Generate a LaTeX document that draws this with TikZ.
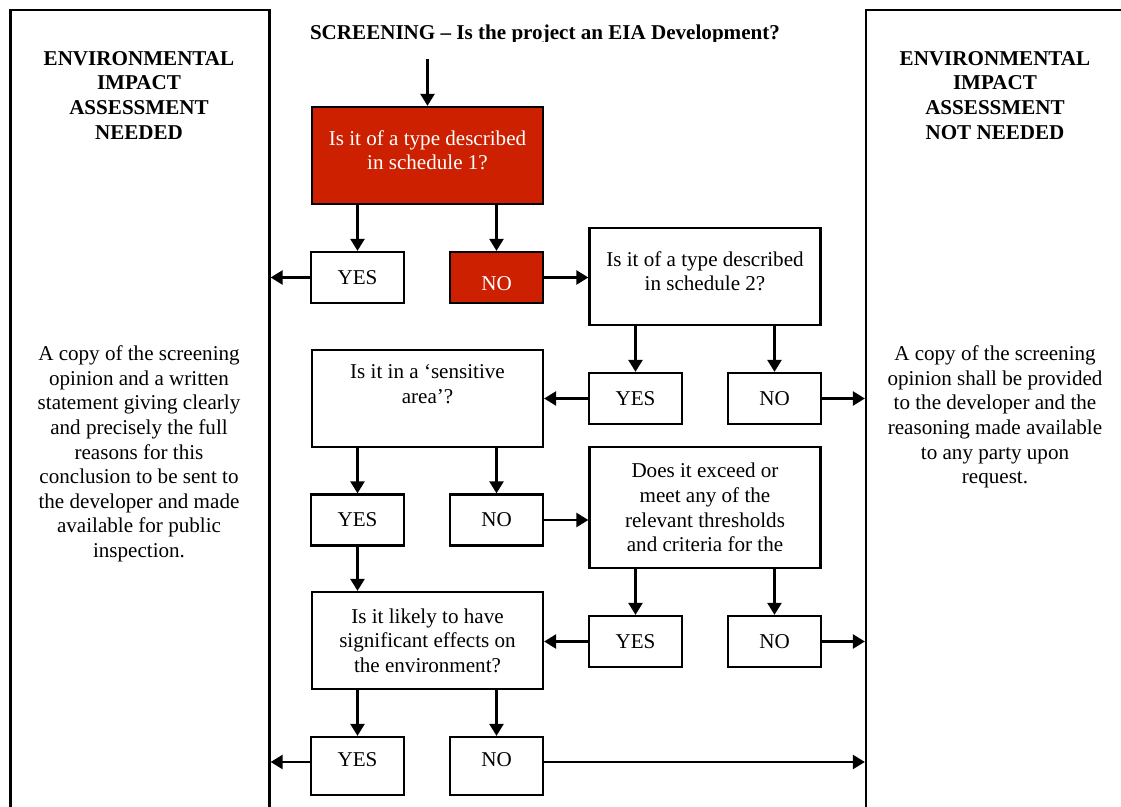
\documentclass[tikz,border=0pt]{standalone}
\usepackage{fontspec}
\setmainfont{Liberation Serif}
\usepackage{tikz}
\usetikzlibrary{arrows.meta}
\definecolor{screenred}{RGB}{204,32,0}

\begin{document}
\begin{tikzpicture}[
  every node/.style={font=\fontsize{12}{14}\selectfont},
  panel/.style={draw, line width=1.3pt, inner sep=0pt,
    minimum width=5.18cm, minimum height=16.6cm},
  heading/.style={font=\fontsize{12}{14}\selectfont\bfseries,
    align=center, inner sep=0pt, anchor=north},
  note/.style={align=center, inner sep=0pt, anchor=north},
  question/.style={draw, line width=1.3pt, fill=white, align=center,
    inner sep=2pt, minimum width=4.62cm, minimum height=1.94cm},
  redquestion/.style={question, fill=screenred, text=white},
  answer/.style={draw, line width=1.3pt, fill=white, align=center,
    inner sep=2pt, minimum width=1.86cm, minimum height=1.02cm},
  redanswer/.style={answer, fill=screenred, text=white},
  arr/.style={-{Triangle[length=0.24cm,width=0.28cm]}, line width=1.4pt},
]
\useasboundingbox (0,0) rectangle (22.42,-16.14);
\clip (0,0) rectangle (22.42,-16.14);

% outcome panels
\node[panel] at ( 2.80, -8.50) (needed) {};
\node[panel, minimum width=5.6cm] at (20.12, -8.50) (notneeded) {};

\node[heading] at ( 2.78, -1.02) (neededtitle)
  {ENVIRONMENTAL\\IMPACT\\ASSESSMENT\\NEEDED};
\node[note] at ( 2.78, -6.91) (neededtext)
  {A copy of the screening\\opinion and a written\\statement giving clearly\\and precisely the full\\reasons for this\\conclusion to be sent to\\the developer and made\\available for public\\inspection.};

\node[heading] at (19.90, -1.02) (notneededtitle)
  {ENVIRONMENTAL\\IMPACT\\ASSESSMENT\\NOT NEEDED};
\node[note] at (19.90, -6.91) (notneededtext)
  {A copy of the screening\\opinion shall be provided\\to the developer and the\\reasoning made available\\to any party upon\\request.};

% title, cut off at the bottom as in the form
\begin{scope}
\clip (5.5,0) rectangle (17,-0.84);
\node[font=\fontsize{12}{14}\selectfont\bfseries, anchor=base] at (10.90, -0.80) (screening)
  {SCREENING -- Is the project an EIA Development?};
\end{scope}
\coordinate (entry) at (8.55, -1.18);

% questions and answers
\node[redquestion, text depth=0.22cm] at ( 8.55,  -3.11) (sched1) {Is it of a type described\\in schedule 1?};
\node[answer]                         at ( 7.15,  -5.55) (yes1)   {YES};
\node[redanswer, text height=0.52cm]  at ( 9.93,  -5.55) (no1)    {NO};

\node[question, text depth=0.21cm]    at (14.10,  -5.53) (sched2) {Is it of a type described\\in schedule 2?};
\node[answer]                         at (12.71,  -7.97) (yes2)   {YES};
\node[answer]                         at (15.49,  -7.97) (no2)    {NO};

\node[question, text depth=0.57cm]    at ( 8.55,  -7.97) (sensitive) {Is it in a `sensitive\\area'?};
\node[answer]                         at ( 7.15, -10.40) (yes3)   {YES};
\node[answer]                         at ( 9.93, -10.40) (no3)    {NO};

\node[question, minimum height=2.42cm] at (14.10, -10.15) (thresholds) {Does it exceed or\\meet any of the\\relevant thresholds\\and criteria for the};
\node[answer]                         at (12.71, -12.83) (yes4)   {YES};
\node[answer]                         at (15.49, -12.83) (no4)    {NO};

\node[question]                       at ( 8.55, -12.81) (effects) {Is it likely to have\\significant effects on\\the environment?};
\node[answer, minimum height=1.16cm, text depth=0.24cm] at ( 7.15, -15.32) (yes5) {YES};
\node[answer, minimum height=1.16cm, text depth=0.24cm] at ( 9.93, -15.32) (no5)  {NO};

% connectors
\draw[arr] (entry) -- (sched1.north);
\draw[arr] (yes1.north |- sched1.south) -- (yes1.north);
\draw[arr] (no1.north |- sched1.south)  -- (no1.north);
\draw[arr] (yes1.west) -- (yes1.west -| needed.east);
\draw[arr] (no1.east)  -- (no1.east -| sched2.west);
\draw[arr] (yes2.north |- sched2.south) -- (yes2.north);
\draw[arr] (no2.north |- sched2.south)  -- (no2.north);
\draw[arr] (yes2.west) -- (yes2.west -| sensitive.east);
\draw[arr] (no2.east)  -- (no2.east -| notneeded.west);
\draw[arr] (yes3.north |- sensitive.south) -- (yes3.north);
\draw[arr] (no3.north |- sensitive.south)  -- (no3.north);
\draw[arr] (no3.east)  -- (no3.east -| thresholds.west);
\draw[arr] (yes3.south) -- (yes3.south |- effects.north);
\draw[arr] (yes4.north |- thresholds.south) -- (yes4.north);
\draw[arr] (no4.north |- thresholds.south)  -- (no4.north);
\draw[arr] (yes4.west) -- (yes4.west -| effects.east);
\draw[arr] (no4.east)  -- (no4.east -| notneeded.west);
\draw[arr] (yes5.north |- effects.south) -- (yes5.north);
\draw[arr] (no5.north |- effects.south)  -- (no5.north);
\draw[arr] ([yshift=0.08cm]yes5.west) -- ([yshift=0.08cm]yes5.west -| needed.east);
\draw[arr] ([yshift=0.08cm]no5.east)  -- ([yshift=0.08cm]no5.east -| notneeded.west);
\end{tikzpicture}
\end{document}
